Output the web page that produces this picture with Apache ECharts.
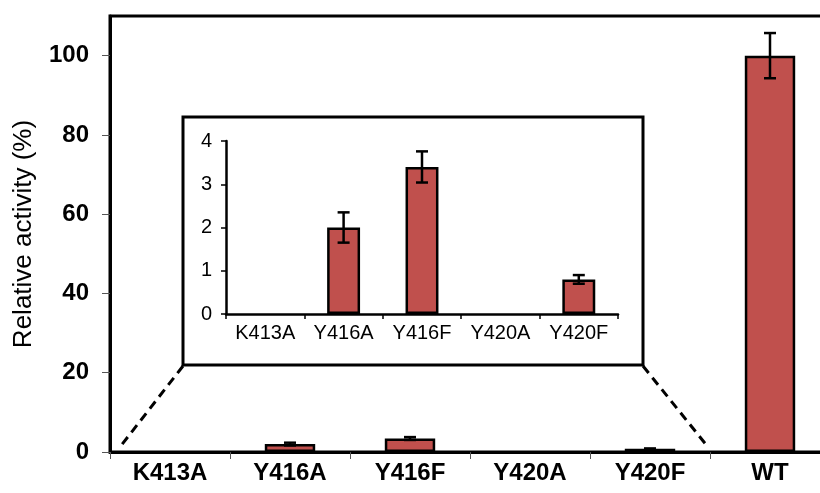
<!DOCTYPE html>
<html>
<head>
<meta charset="utf-8">
<script src="https://cdn.jsdelivr.net/npm/echarts@6/dist/echarts.min.js"></script>
<style>html,body{margin:0;padding:0;background:#fff}#c{width:820px;height:493px}</style>
</head>
<body>
<div id="c"></div>
<script>
var mainCategories = ['K413A', 'Y416A', 'Y416F', 'Y420A', 'Y420F', 'WT'];
var mainValues = [0, 2.0, 3.4, 0, 0.8, 100];
var mainErrors = [0, 0.35, 0.36, 0, 0.1, 5.7];
var mainTicks = [0, 20, 40, 60, 80, 100];

var insetCategories = ['K413A', 'Y416A', 'Y416F', 'Y420A', 'Y420F'];
var insetValues = [0, 2.0, 3.4, 0, 0.8];
var insetErrors = [0, 0.35, 0.36, 0, 0.1];
var insetTicks = [0, 1, 2, 3, 4];

var FONT = '"Liberation Sans", Arial, sans-serif';
var RED = '#C0504D';

function barData(vals) {
  return vals.map(function (v) { return v === 0 ? '-' : v; });
}
function errData(vals, errs) {
  return vals.map(function (v, i) { return [i, v, errs[i]]; });
}
function errRender(params, api) {
  var i = api.value(0), v = api.value(1), e = api.value(2);
  if (!e) return;
  var hi = api.coord([i, v + e]);
  var lo = api.coord([i, v - e]);
  var cap = 6;
  var st = { stroke: '#000', lineWidth: 2.5 };
  return {
    type: 'group',
    children: [
      { type: 'line', shape: { x1: hi[0], y1: hi[1], x2: lo[0], y2: lo[1] }, style: st },
      { type: 'line', shape: { x1: hi[0] - cap, y1: hi[1], x2: hi[0] + cap, y2: hi[1] }, style: st },
      { type: 'line', shape: { x1: lo[0] - cap, y1: lo[1], x2: lo[0] + cap, y2: lo[1] }, style: st }
    ]
  };
}

var chart = echarts.init(document.getElementById('c'), null, { renderer: 'canvas' });
chart.setOption({
  animation: false,
  backgroundColor: '#fff',
  textStyle: { fontFamily: FONT },
  grid: [
    { left: 110, top: 16, width: 720, height: 436, show: true, borderColor: '#000', borderWidth: 3, backgroundColor: 'transparent', containLabel: false, outerBoundsMode: 'none' },
    { left: 226, top: 141, width: 392, height: 173, containLabel: false, outerBoundsMode: 'none' }
  ],
  xAxis: [
    {
      type: 'category', gridIndex: 0, data: mainCategories,
      axisLine: { lineStyle: { color: '#000', width: 3 } },
      axisTick: { show: true, length: 7, lineStyle: { color: '#555', width: 1 } },
      axisLabel: { color: '#000', fontSize: 24, fontWeight: 'bold', fontFamily: FONT, margin: 9 },
      splitLine: { show: false }
    },
    {
      type: 'category', gridIndex: 1, data: insetCategories,
      axisLine: { lineStyle: { color: '#000', width: 2.5 } },
      axisTick: { show: true, length: 5, lineStyle: { color: '#000', width: 1.5 } },
      axisLabel: { color: '#000', fontSize: 20, fontFamily: FONT, margin: 9 },
      splitLine: { show: false }
    }
  ],
  yAxis: [
    {
      type: 'value', gridIndex: 0, min: 0, max: 110, interval: 10,
      name: 'Relative activity (%)', nameLocation: 'middle', nameGap: 73,
      nameTextStyle: { color: '#000', fontSize: 26, fontFamily: FONT },
      axisLine: { show: true, lineStyle: { color: '#000', width: 3 } },
      axisTick: { show: true, length: 8, customValues: mainTicks, lineStyle: { color: '#555', width: 1 } },
      axisLabel: { color: '#000', fontSize: 24, fontWeight: 'bold', fontFamily: FONT, margin: 21, customValues: mainTicks },
      splitLine: { show: false }
    },
    {
      type: 'value', gridIndex: 1, min: 0, max: 4, interval: 1,
      axisLine: { show: true, lineStyle: { color: '#000', width: 2.5 } },
      axisTick: { show: true, length: 5, customValues: insetTicks, lineStyle: { color: '#000', width: 1.5 } },
      axisLabel: { color: '#000', fontSize: 20, fontFamily: FONT, margin: 14, customValues: insetTicks },
      splitLine: { show: false }
    }
  ],
  graphic: [
    { type: 'rect', z: -10, shape: { x: 183, y: 117, width: 460, height: 248 }, style: { fill: '#fff', stroke: '#000', lineWidth: 3 } },
    { type: 'line', z: -10, shape: { x1: 183, y1: 366, x2: 120, y2: 447 }, style: { stroke: '#000', lineWidth: 3, lineDash: [9, 6] } },
    { type: 'line', z: -10, shape: { x1: 643, y1: 366, x2: 708, y2: 447 }, style: { stroke: '#000', lineWidth: 3, lineDash: [9, 6] } }
  ],
  series: [
    {
      type: 'bar', xAxisIndex: 0, yAxisIndex: 0, data: barData(mainValues), barWidth: '42%',
      itemStyle: { color: RED, borderColor: '#000', borderWidth: 2.5 }
    },
    {
      type: 'custom', xAxisIndex: 0, yAxisIndex: 0, data: errData(mainValues, mainErrors),
      renderItem: errRender, z: 5
    },
    {
      type: 'bar', xAxisIndex: 1, yAxisIndex: 1, data: barData(insetValues), barWidth: '42%',
      itemStyle: { color: RED, borderColor: '#000', borderWidth: 2.5 }
    },
    {
      type: 'custom', xAxisIndex: 1, yAxisIndex: 1, data: errData(insetValues, insetErrors),
      renderItem: errRender, z: 5
    }
  ]
});
</script>
</body>
</html>
